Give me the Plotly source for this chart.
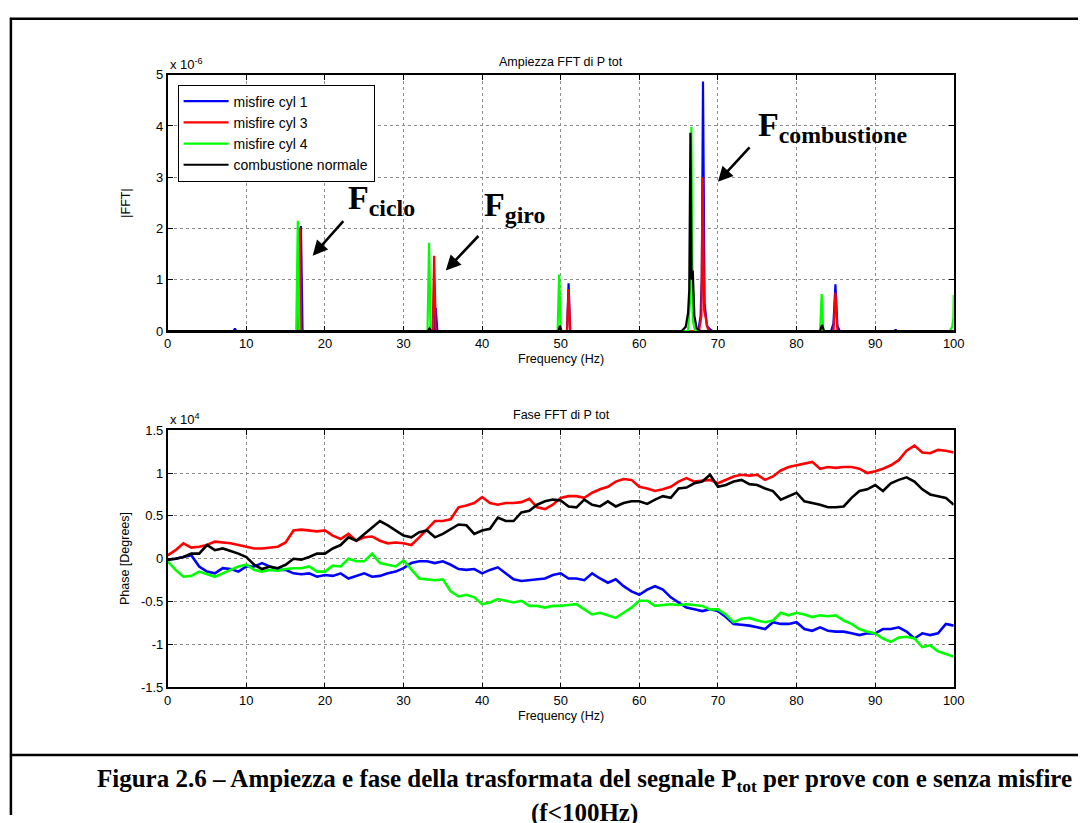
import plotly.graph_objects as go

# ---------------- data ----------------
# |FFT| spectra (values in units of 1e-6), frequency in Hz
freq_cyl1 = [0, 8.4, 8.55, 8.7, 16.75, 16.95, 17.15, 33.9, 34.1, 34.3, 50.8, 51.0, 51.2,
             67.5, 67.8, 67.95, 68.1, 68.3, 68.6, 69.0, 69.3, 84.4, 84.7, 84.95, 85.2, 85.5,
             92.5, 92.6, 92.7, 100]
amp_cyl1 = [0, 0, 0.05, 0, 0, 2.05, 0, 0, 0.45, 0, 0, 0.93, 0,
            0, 0.3, 1.05, 4.87, 0.55, 0.1, 0.03, 0, 0, 0.15, 0.91, 0.1, 0,
            0, 0.03, 0, 0]

freq_cyl3 = [0, 16.6, 16.8, 17.0, 33.7, 33.9, 34.1, 50.8, 51.0, 51.2,
             67.6, 67.9, 68.05, 68.25, 68.45, 68.7, 69.0, 84.7, 84.95, 85.2, 100]
amp_cyl3 = [0, 0, 2.02, 0, 0, 1.47, 0, 0, 0.82, 0,
            0, 0.3, 3.0, 0.4, 0.25, 0.05, 0, 0, 0.75, 0, 0]

freq_cyl4 = [0, 16.35, 16.55, 16.75, 33.05, 33.25, 33.45, 49.6, 49.8, 50.0,
             66.2, 66.45, 66.62, 66.8, 67.1, 83.0, 83.2, 83.4, 99.5, 99.8, 99.95, 100]
amp_cyl4 = [0, 0, 2.15, 0, 0, 1.72, 0, 0, 1.10, 0,
            0, 0.6, 3.98, 0.2, 0, 0, 0.72, 0, 0, 0.08, 0.25, 0.7]

freq_norm = [0, 33.1, 33.3, 33.5, 49.7, 49.9, 50.1, 65.4, 65.9, 66.2, 66.35, 66.5, 66.65,
             66.8, 67.0, 67.3, 67.7, 83.0, 83.25, 83.5, 100]
amp_norm = [0, 0, 0.05, 0, 0, 0.1, 0, 0, 0.08, 0.35, 0.8, 3.87, 1.0,
            1.18, 0.3, 0.05, 0, 0, 0.12, 0, 0]

# Unwrapped FFT phase (values in units of 1e4 degrees), sampled every 1 Hz
phase_freq = list(range(0, 101))
phase_cyl1 = [-0.01, 0, 0.02, 0.04, -0.09, -0.15, -0.17, -0.11, -0.12, -0.15,
              -0.09, -0.09, -0.05, -0.09, -0.13, -0.13, -0.17, -0.18, -0.17, -0.21,
              -0.19, -0.20, -0.17, -0.23, -0.20, -0.17, -0.21, -0.20, -0.17, -0.15,
              -0.11, -0.05, -0.03, -0.03, -0.05, -0.03, -0.07, -0.12, -0.13, -0.12,
              -0.17, -0.13, -0.10, -0.17, -0.24, -0.26, -0.25, -0.24, -0.23, -0.19,
              -0.17, -0.23, -0.23, -0.25, -0.17, -0.23, -0.28, -0.24, -0.32, -0.38,
              -0.42, -0.36, -0.32, -0.36, -0.45, -0.51, -0.57, -0.59, -0.61, -0.59,
              -0.61, -0.68, -0.76, -0.77, -0.78, -0.80, -0.82, -0.74, -0.76, -0.76,
              -0.74, -0.82, -0.84, -0.80, -0.84, -0.85, -0.85, -0.87, -0.89, -0.87,
              -0.87, -0.82, -0.82, -0.80, -0.85, -0.93, -0.87, -0.89, -0.87, -0.76,
              -0.78]
phase_cyl3 = [0.04, 0.10, 0.18, 0.13, 0.14, 0.16, 0.20, 0.19, 0.18, 0.16,
              0.14, 0.12, 0.12, 0.13, 0.14, 0.19, 0.33, 0.34, 0.33, 0.32,
              0.33, 0.27, 0.23, 0.29, 0.21, 0.25, 0.26, 0.21, 0.18, 0.19,
              0.18, 0.16, 0.25, 0.35, 0.44, 0.44, 0.46, 0.60, 0.62, 0.65,
              0.72, 0.65, 0.63, 0.65, 0.65, 0.66, 0.70, 0.60, 0.58, 0.63,
              0.71, 0.73, 0.73, 0.71, 0.77, 0.81, 0.84, 0.90, 0.93, 0.92,
              0.84, 0.82, 0.79, 0.81, 0.84, 0.90, 0.94, 0.90, 0.91, 0.92,
              0.88, 0.92, 0.96, 0.98, 0.97, 0.98, 0.92, 0.96, 1.03, 1.07,
              1.09, 1.11, 1.13, 1.05, 1.07, 1.06, 1.07, 1.07, 1.05, 1.00,
              1.02, 1.05, 1.09, 1.15, 1.26, 1.32, 1.24, 1.23, 1.27, 1.26,
              1.24]
phase_cyl4 = [-0.03, -0.13, -0.21, -0.20, -0.15, -0.18, -0.21, -0.17, -0.13, -0.09,
              -0.07, -0.13, -0.15, -0.13, -0.14, -0.12, -0.11, -0.11, -0.09, -0.15,
              -0.15, -0.08, -0.09, 0.00, -0.03, -0.03, 0.06, -0.05, -0.07, -0.09,
              -0.02, -0.13, -0.23, -0.24, -0.25, -0.24, -0.38, -0.44, -0.42, -0.45,
              -0.53, -0.51, -0.47, -0.49, -0.51, -0.49, -0.55, -0.55, -0.57, -0.55,
              -0.55, -0.54, -0.53, -0.59, -0.65, -0.63, -0.66, -0.69, -0.63, -0.57,
              -0.49, -0.49, -0.55, -0.54, -0.53, -0.54, -0.53, -0.54, -0.55, -0.59,
              -0.59, -0.65, -0.74, -0.70, -0.69, -0.72, -0.74, -0.72, -0.63, -0.66,
              -0.63, -0.65, -0.68, -0.66, -0.67, -0.66, -0.72, -0.76, -0.82, -0.85,
              -0.87, -0.93, -0.97, -0.92, -0.91, -0.93, -1.03, -1.01, -1.08, -1.11,
              -1.14]
phase_norm = [-0.01, 0.00, 0.02, 0.06, 0.06, 0.16, 0.10, 0.12, 0.09, 0.06,
              0.02, -0.07, -0.12, -0.09, -0.11, -0.07, 0.00, -0.01, 0.02, 0.06,
              0.06, 0.12, 0.16, 0.25, 0.21, 0.29, 0.37, 0.44, 0.39, 0.33,
              0.27, 0.25, 0.31, 0.33, 0.25, 0.29, 0.35, 0.40, 0.39, 0.29,
              0.33, 0.35, 0.48, 0.44, 0.44, 0.54, 0.56, 0.63, 0.67, 0.69,
              0.68, 0.61, 0.60, 0.69, 0.63, 0.61, 0.67, 0.61, 0.65, 0.67,
              0.67, 0.64, 0.69, 0.73, 0.71, 0.82, 0.83, 0.88, 0.90, 0.98,
              0.84, 0.86, 0.90, 0.92, 0.87, 0.86, 0.82, 0.79, 0.69, 0.73,
              0.77, 0.67, 0.65, 0.63, 0.60, 0.60, 0.61, 0.71, 0.79, 0.81,
              0.86, 0.79, 0.88, 0.92, 0.95, 0.90, 0.81, 0.75, 0.73, 0.71,
              0.63]

series_names = ["misfire cyl 1", "misfire cyl 3", "misfire cyl 4", "combustione normale"]
series_colors = ["#0000ff", "#ff0000", "#00ff00", "#000000"]

freq_ticks = [0, 10, 20, 30, 40, 50, 60, 70, 80, 90, 100]
amp_ticks = [0, 1, 2, 3, 4, 5]
phase_ticks = [-1.5, -1, -0.5, 0, 0.5, 1, 1.5]
phase_tick_text = ["-1.5", "-1", "-0.5", "0", "0.5", "1", "1.5"]

# ---------------- figure ----------------
W, H = 1089, 823


def px(x):
    return x / W


def py(y):
    return 1 - y / H


FONT = "Liberation Sans, Arial, sans-serif"
SERIF = "Liberation Serif, Times New Roman, serif"

fig = go.Figure()

spectra = [(freq_cyl1, amp_cyl1), (freq_cyl3, amp_cyl3), (freq_cyl4, amp_cyl4), (freq_norm, amp_norm)]
for (fx, fy), name, col in zip(spectra, series_names, series_colors):
    fig.add_trace(go.Scatter(x=fx, y=fy, mode="lines", name=name,
                             line=dict(color=col, width=2.2), xaxis="x", yaxis="y"))

phases = [phase_cyl1, phase_cyl3, phase_cyl4, phase_norm]
for ph, name, col in zip(phases, series_names, series_colors):
    fig.add_trace(go.Scatter(x=phase_freq, y=ph, mode="lines", name=name, showlegend=False,
                             line=dict(color=col, width=2.6), xaxis="x2", yaxis="y2"))

axis_common = dict(showline=True, linecolor="black", linewidth=1.6, mirror="ticks",
                   ticks="inside", ticklen=5, tickcolor="black", tickwidth=1,
                   showgrid=True, gridcolor="#8c8c8c", griddash="dot", gridwidth=1,
                   zeroline=False, tickfont=dict(family=FONT, size=13, color="black"))

fig.update_layout(
    width=W, height=H, margin=dict(l=0, r=0, t=0, b=0),
    paper_bgcolor="white", plot_bgcolor="white",
    font=dict(family=FONT, color="black"),
    xaxis=dict(domain=[px(166), px(963)], range=[0, 100], tickvals=freq_ticks,
               anchor="y", **axis_common),
    yaxis=dict(domain=[py(330), py(69)], range=[0, 5], tickvals=amp_ticks,
               anchor="x", **axis_common),
    xaxis2=dict(domain=[px(166), px(963)], range=[0, 100], tickvals=freq_ticks,
                anchor="y2", **axis_common),
    yaxis2=dict(domain=[py(693), py(431)], range=[-1.5, 1.5], tickvals=phase_ticks,
                ticktext=phase_tick_text, anchor="x2", **axis_common),
    legend=dict(x=px(176), y=py(79), xanchor="left", yanchor="top",
                bgcolor="white", bordercolor="black", borderwidth=1, itemwidth=45,
                font=dict(family=FONT, size=14, color="black"), tracegroupgap=0),
    showlegend=True,
)

ann = []


def label(text, x, y, size=13, xanchor="center", yanchor="middle", **kw):
    ann.append(dict(text=text, x=px(x), y=py(y), xref="paper", yref="paper",
                    xanchor=xanchor, yanchor=yanchor, showarrow=False,
                    font=dict(family=FONT, size=size, color="black"), **kw))


label("Ampiezza FFT di P tot", 565, 56, 12.5)
label("Fase FFT di P tot", 565, 416, 12.5)
label("Frequency (Hz)", 565, 359, 12.5)
label("Frequency (Hz)", 565, 722, 12.5)
label("|FFT|", 124, 200, 12.5, textangle=-90)
label("Phase [Degrees]", 122, 562, 12.5, textangle=-90)
label("x 10<sup>-6</sup>", 166, 58, 13, xanchor="left")
label("x 10<sup>4</sup>", 166, 420, 13, xanchor="left")

# Frequency markers with arrows on the amplitude plot
marks = [("F<sub>ciclo</sub>", 18.44, 1.47, 32, -36, 347, 197),
         ("F<sub>giro</sub>", 35.38, 1.18, 34, -36, 485, 204),
         ("F<sub>combustione</sub>", 70.0, 2.91, 33, -36, 763, 122)]
for text, hx, hy, ax, ay, tx, ty in marks:
    ann.append(dict(x=hx, y=hy, xref="x", yref="y", ax=ax, ay=ay, axref="pixel", ayref="pixel",
                    text="", showarrow=True, arrowhead=2, arrowsize=1.15, arrowwidth=2.6,
                    arrowcolor="black"))
    ann.append(dict(text="<b>" + text + "</b>", x=px(tx), y=py(ty), xref="paper", yref="paper",
                    xanchor="left", yanchor="middle", showarrow=False,
                    font=dict(family=SERIF, size=34, color="black")))

# Caption (the table cell is wider than the picture, so it is centred right of middle)
ann.append(dict(text="<b>Figura 2.6 – Ampiezza e fase della trasformata del segnale P<sub>tot</sub> "
                     "per prove con e senza misfire</b>",
                x=px(589), y=py(788), xref="paper", yref="paper", showarrow=False,
                xanchor="center", yanchor="middle",
                font=dict(family=SERIF, size=25, color="black")))
ann.append(dict(text="<b>(f<100Hz)</b>", x=px(589), y=py(821), xref="paper", yref="paper",
                showarrow=False, xanchor="center", yanchor="middle",
                font=dict(family=SERIF, size=25, color="black")))

fig.update_layout(annotations=ann)

# Page frame (left and top edges) and caption separator
frame = dict(color="black", width=2.5)
fig.update_layout(shapes=[
    dict(type="line", xref="paper", yref="paper", x0=px(6), x1=1, y0=py(12), y1=py(12), line=frame),
    dict(type="line", xref="paper", yref="paper", x0=px(7), x1=px(7), y0=py(11), y1=0, line=frame),
    dict(type="line", xref="paper", yref="paper", x0=px(6), x1=1, y0=py(762), y1=py(762), line=frame),
])

fig.write_html("out.html")
